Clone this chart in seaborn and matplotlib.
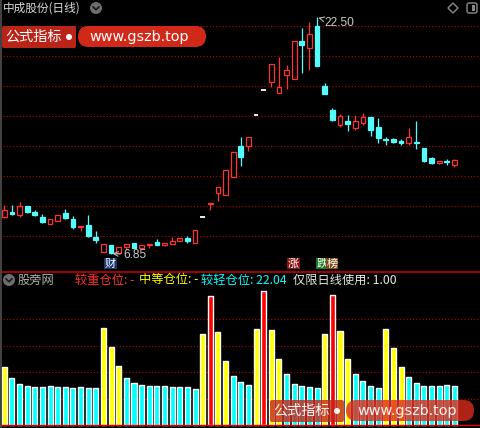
import numpy as np
import pandas as pd
import matplotlib
matplotlib.use("Agg")
import matplotlib.pyplot as plt
import matplotlib.transforms as mtransforms
from matplotlib.patches import Circle, Rectangle, FancyBboxPatch, Polygon
from matplotlib.lines import Line2D
import seaborn as sns

# ---------------- data ----------------
stock_title = "中成股份(日线)"
indicator_name = "股旁网"
label_heavy = "较重仓位"
label_mid = "中等仓位"
label_light = "较轻仓位"
label_daily = "仅限日线使用"
daily_only_value = 1.00

opens = [9.29, 9.57, 9.40, 10.00, 9.60, 9.27, 8.81, 9.01, 9.54, 9.14,
         8.59, 8.74, 7.94, 6.95, 7.41, 6.88, 7.30, 7.53, 7.24, 7.39,
         7.61, 7.43, 7.50, 7.66, 7.88, 7.57, 9.25, 10.11, 10.88, 10.75,
         11.94, 13.98, 13.98, 16.03, 17.69, 18.24, 17.47, 18.71, 18.44, 20.96,
         20.50, 21.96, 17.96, 16.37, 15.37, 15.64, 15.19, 15.48, 15.88, 15.22,
         14.44, 14.44, 14.28, 14.20, 14.25, 13.87, 13.18, 12.87, 12.98, 12.74]
closes = [9.73, 9.50, 10.00, 9.60, 9.40, 8.94, 9.14, 9.40, 9.20, 8.61,
          8.67, 8.01, 7.75, 7.48, 6.90, 7.26, 7.50, 7.24, 7.39, 7.48,
          7.41, 7.53, 7.68, 7.88, 7.68, 8.41, 9.25, 10.22, 11.24, 12.39,
          13.58, 13.27, 14.56, 16.03, 17.69, 19.42, 17.87, 19.02, 20.94, 20.68,
          21.41, 19.30, 17.41, 15.70, 15.97, 15.44, 15.64, 15.88, 15.04, 14.49,
          14.38, 14.22, 14.21, 14.56, 14.20, 12.98, 12.87, 13.00, 12.94, 13.06]
highs = [10.07, 10.07, 10.27, 10.00, 9.73, 9.47, 9.14, 9.40, 9.80, 9.34,
         8.67, 9.40, 8.34, 7.48, 7.41, 7.26, 7.50, 7.53, 7.39, 7.48,
         7.81, 7.53, 7.96, 7.88, 8.01, 8.41, 9.25, 10.22, 11.24, 12.39,
         13.58, 14.60, 14.56, 16.03, 17.69, 19.42, 19.90, 19.35, 20.94, 21.82,
         22.22, 22.50, 18.18, 16.50, 16.10, 16.03, 16.03, 16.19, 15.88, 15.86,
         14.60, 14.53, 14.44, 15.19, 15.64, 13.87, 13.25, 13.00, 13.14, 13.13]
lows = [9.20, 9.40, 9.27, 9.54, 9.34, 8.87, 8.81, 9.01, 9.14, 8.48,
        8.34, 7.94, 7.55, 6.95, 6.85, 6.88, 7.08, 7.24, 7.24, 7.24,
        7.41, 7.35, 7.50, 7.66, 7.57, 7.57, 9.25, 9.73, 10.35, 10.75,
        11.94, 12.65, 13.65, 16.03, 17.69, 17.91, 17.47, 17.76, 18.44, 18.84,
        19.02, 19.30, 17.41, 15.64, 15.26, 14.99, 15.04, 15.37, 14.66, 14.20,
        14.04, 14.16, 14.04, 14.04, 13.78, 12.90, 12.79, 12.79, 12.72, 12.60]
positions = [32.8, 26.6, 23.2, 22.0, 21.5, 21.5, 22.0, 21.5, 21.5, 20.9,
             21.5, 20.9, 20.9, 54.8, 44.1, 33.3, 26.6, 23.7, 22.6, 22.0,
             22.0, 22.0, 21.5, 21.5, 21.5, 20.3, 51.4, 72.9, 52.5, 36.2,
             27.7, 24.3, 22.6, 54.2, 75.7, 53.7, 37.3, 28.8, 23.2, 22.0,
             21.5, 20.9, 51.4, 73.5, 53.1, 37.3, 28.8, 24.9, 22.0, 20.9,
             54.2, 43.5, 32.8, 27.1, 23.7, 22.0, 22.0, 22.0, 22.6, 22.04]
heavy_threshold = 60
mid_threshold = 30
pos_gridlines = [15, 30, 45, 60]
event_marks = {14: ("财", "#17396e"), 38: ("涨", "#8a1212")}

# ---------------- style ----------------
sns.set_theme(style="dark", rc={"axes.facecolor": "black", "figure.facecolor": "black",
                                "savefig.facecolor": "black"})
plt.rcParams["font.family"] = ["Noto Sans CJK SC", "DejaVu Sans"]

UP = "#ff3232"
DOWN = "#54fcfc"
GRID = "#c00000"
DOTS = (0, (1, 1.9))
W, H = 480, 428
fig = plt.figure(figsize=(4.8, 4.28), dpi=100)
PX = mtransforms.IdentityTransform()


def fy(y):
    return 1 - y / H


ax = fig.add_axes([0, fy(271), 1, 271 / H])
axb = fig.add_axes([0, 0, 1, fy(272)])
for a in (ax, axb):
    a.set_facecolor("black")
    for s in a.spines.values():
        s.set_visible(False)

n = len(opens)
idx = np.arange(n)
xlim = (-0.564, 62.35)

# ---------------- candles ----------------
for i in range(n):
    o, c, h, l = opens[i], closes[i], highs[i], lows[i]
    lo_b, hi_b = min(o, c), max(o, c)
    if c > o:
        col, face = UP, "black"
    elif c < o:
        col, face = DOWN, DOWN
    else:
        col, face = "#ffffff", "#ffffff"
    if l < lo_b:
        ax.vlines(i, l, lo_b, color=col, lw=0.9)
    if h > hi_b:
        ax.vlines(i, hi_b, h, color=col, lw=0.9)
    if c == o:
        ax.hlines(o, i - 0.3, i + 0.3, color=col, lw=1.3)
    else:
        ax.bar(i, max(hi_b - lo_b, 0.02), bottom=lo_b, width=0.62,
               facecolor=face, edgecolor=col, linewidth=0.9)

ax.set_xlim(*xlim)
ax.set_ylim(5.69, 23.66)
ax.set_xticks([])
ax.set_yticks([])
for j in range(8):
    f = 1 - (26 + 30 * j) / 271
    ax.plot([0, 1], [f, f], transform=ax.transAxes, color=GRID, lw=0.8,
            linestyle=DOTS, zorder=0)

# high / low annotations
i_hi = int(np.argmax(highs))
i_lo = int(np.argmin(lows))
ax.annotate(f"{highs[i_hi]:.2f}", xy=(i_hi, highs[i_hi]), xytext=(5, -4),
            textcoords="offset points", va="center", ha="left", color="#c8c8c8",
            fontsize=8.6, family="Liberation Sans",
            arrowprops=dict(arrowstyle="->", color="#c8c8c8", lw=0.7,
                            shrinkA=0, shrinkB=1))
ax.annotate(f"{lows[i_lo]:.2f}", xy=(i_lo, lows[i_lo]), xytext=(9, -1),
            textcoords="offset points", va="center", ha="left", color="#c8c8c8",
            fontsize=8.6, family="Liberation Sans",
            arrowprops=dict(arrowstyle="->", color="#c8c8c8", lw=0.7,
                            shrinkA=0, shrinkB=1))

blend = mtransforms.blended_transform_factory(ax.transData, ax.transAxes)
for k, (ch, bg) in event_marks.items():
    ax.text(k - 0.1, 1 - 263.5 / 271, ch, transform=blend, ha="center", va="center",
            color="white", fontsize=8, bbox=dict(boxstyle="square,pad=0.08", fc=bg, ec="none"))
ax.text(41.65, 1 - 263.5 / 271, "跌", transform=blend, ha="center", va="center",
        color="white", fontsize=8, bbox=dict(boxstyle="square,pad=0.08", fc="#1d7a24", ec="none"))
ax.text(42.95, 1 - 263.5 / 271, "榜", transform=blend, ha="center", va="center",
        color="white", fontsize=8, bbox=dict(boxstyle="square,pad=0.08", fc="#7d4a12", ec="none"))

# ---------------- position bars ----------------
levels = ["heavy" if v >= heavy_threshold else ("mid" if v >= mid_threshold else "light")
          for v in positions]
df = pd.DataFrame({"idx": idx, "val": positions, "level": levels})
sns.barplot(data=df, x="idx", y="val", hue="level",
            palette={"heavy": "#ff0000", "mid": "#ffff00", "light": "#00ffff"},
            native_scale=True, width=0.66, dodge=False, saturation=1,
            legend=False, errorbar=None, ax=axb, zorder=2)
axb.set_xlim(*xlim)
axb.set_ylim(-1.7, 86.7)
axb.set_xticks([])
axb.set_yticks([])
axb.set_xlabel("")
axb.set_ylabel("")
for g in pos_gridlines:
    axb.axhline(g, color=GRID, lw=0.8, linestyle=DOTS, zorder=1)
axb.axhline(0, color="#e00000", lw=1.0, zorder=3)

# ---------------- frame lines ----------------
fig.add_artist(Line2D([0, 1], [fy(271.5)] * 2, color="#d00000", lw=1.1))
fig.add_artist(Line2D([0.5 / W] * 2, [0, 1], color="#4a4a4a", lw=1.3))

# ---------------- header texts & icons ----------------
fig.text(3 / W, fy(8), stock_title, color="#d8d8d8", fontsize=8.4, va="center", ha="left")


def chevron_circle(x, y, r=6):
    fig.add_artist(Circle((x, H - y), r, transform=PX, fc="#6e6e6e", ec="none"))
    fig.add_artist(Line2D([x - 3, x, x + 3], [H - y + 1.2, H - y - 1.8, H - y + 1.2],
                          transform=PX, color="#1a1a1a", lw=1.2))


chevron_circle(96, 8)
chevron_circle(9, 280)
fig.add_artist(Polygon([(453, H - 3), (458, H - 8), (453, H - 13), (448, H - 8)],
                       closed=True, transform=PX, fc="none", ec="#8a8a8a", lw=1))
fig.add_artist(FancyBboxPatch((467, H - 13), 10, 10, boxstyle="round,pad=0,rounding_size=2",
                              transform=PX, fc="none", ec="#8a8a8a", lw=1))
fig.add_artist(Rectangle((472, H - 11), 3, 6, transform=PX, fc="#8a8a8a", ec="none"))

last = positions[-1]
lvl = levels[-1]
vals = {k: (f"{last:.2f}" if lvl == k else "-") for k in ("heavy", "mid", "light")}
ty = fy(280)
fig.text(18 / W, ty, indicator_name, color="#b0b0b0", fontsize=8.8, va="center")
fig.text(75 / W, ty, f"{label_heavy}: {vals['heavy']}", color="#ff3232", fontsize=8.8, va="center")
fig.text(139 / W, ty, f"{label_mid}: {vals['mid']}", color="#ffff00", fontsize=8.8, va="center")
fig.text(201 / W, ty, f"{label_light}: {vals['light']}", color="#00ffff", fontsize=8.8, va="center")
fig.text(293 / W, ty, f"{label_daily}: {daily_only_value:.2f}", color="#e6e6e6", fontsize=8.8, va="center")


# ---------------- watermarks ----------------
def watermark(x0, y0, alpha):
    fig.add_artist(FancyBboxPatch((x0, H - y0 - 22), 74, 22, boxstyle="round,pad=0,rounding_size=2",
                                  transform=PX, fc="#c3281a", ec="none", alpha=alpha))
    fig.add_artist(FancyBboxPatch((x0 + 76, H - y0 - 21), 128, 21,
                                  boxstyle="round,pad=0,rounding_size=10.5",
                                  transform=PX, fc="#dc2c1c", ec="none", alpha=alpha))
    fig.text((x0 + 3) / W, fy(y0 + 11), "公式指标", color="white", fontsize=10.2,
             va="center", ha="left", alpha=min(1, alpha + 0.15))
    fig.add_artist(Circle((x0 + 67, H - y0 - 11), 3, transform=PX, fc="white", ec="none",
                          alpha=min(1, alpha + 0.15)))
    fig.text((x0 + 87) / W, fy(y0 + 11), "www.gszb.top", color="white", fontsize=10.4,
             family="DejaVu Sans", va="center", ha="left", alpha=min(1, alpha + 0.15))


watermark(2, 26, 0.95)
watermark(270, 400, 0.8)

fig.savefig("out.png", dpi=100, facecolor="black")
